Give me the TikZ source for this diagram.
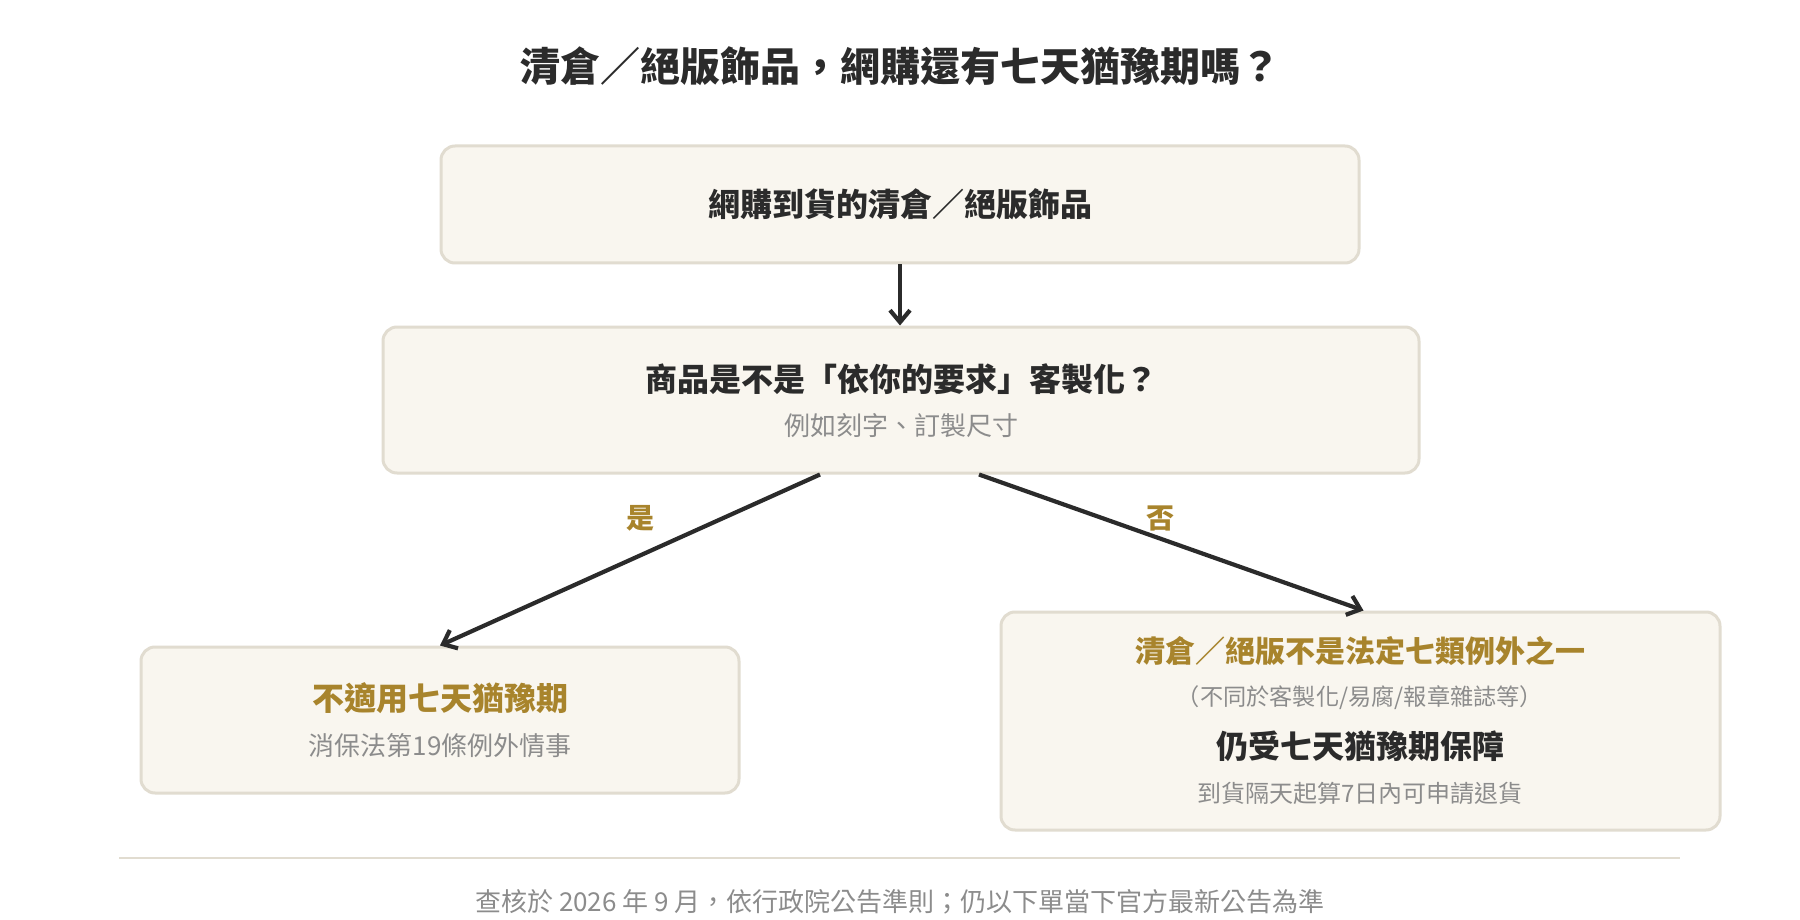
\documentclass[tikz,border=0pt]{standalone}
\usepackage{fontspec}
\setmainfont{Noto Sans CJK TC}
\usetikzlibrary{arrows.meta}
\definecolor{ink}{HTML}{2B2B2B}
\definecolor{graytxt}{HTML}{8C8C8C}
\definecolor{gold}{HTML}{A8842C}
\definecolor{boxfill}{HTML}{F9F6EF}
\definecolor{boxline}{HTML}{E1DCD0}
\tikzset{
  card/.style={draw=boxline, fill=boxfill, line width=3pt, rounded corners=14pt, inner sep=0pt},
  arr/.style={draw=ink, line width=4.2pt, -{Straight Barb[length=12pt,width=20pt]}},
  ttl/.style={font=\fontsize{40}{46}\selectfont\bfseries, text=ink},
  head/.style={font=\fontsize{32}{38}\selectfont\bfseries, text=ink},
  goldhead/.style={font=\fontsize{32}{38}\selectfont\bfseries, text=gold},
  sub/.style={font=\fontsize{26}{31}\selectfont, text=graytxt},
  small/.style={font=\fontsize{23.2}{28}\selectfont, text=graytxt},
  lbl/.style={font=\fontsize{28}{34}\selectfont\bfseries, text=gold},
}
\begin{document}
\begin{tikzpicture}[x=1pt,y=-1pt]
\useasboundingbox[fill=white] (0,0) rectangle (1800,920);
% title
\node[ttl] (title) at (900,66.5) {清倉／絕版飾品，網購還有七天猶豫期嗎？};
% boxes
\node[card, minimum width=918pt, minimum height=117pt] (b1) at (900,204.5) {};
\node[card, minimum width=1036pt, minimum height=146pt] (b2) at (901,400) {};
\node[card, minimum width=598pt, minimum height=146pt] (lb) at (440,720) {};
\node[card, minimum width=719pt, minimum height=218pt] (rb) at (1360.5,721) {};
% texts
\node[head] (t1) at (900,204) {網購到貨的清倉／絕版飾品};
\node[head] (t2) at (901,379.5) {商品是不是「依你的要求」客製化？};
\node[sub] (t2s) at (901,426) {例如刻字、訂製尺寸};
\node[goldhead] (t3) at (440,698.5) {不適用七天猶豫期};
\node[sub] (t3s) at (440,746) {消保法第19條例外情事};
\node[goldhead, font=\fontsize{30}{36}\selectfont\bfseries] (t4) at (1360,651) {清倉／絕版不是法定七類例外之一};
\node[small] (t4a) at (1360,698) {（不同於客製化/易腐/報章雜誌等）};
\node[head] (t4b) at (1360,746) {仍受七天猶豫期保障};
\node[sub, font=\fontsize{24}{29}\selectfont] (t4c) at (1360,793) {到貨隔天起算7日內可申請退貨};
% connectors
\draw[arr] (b1.south) -- (b1.south |- b2.north);
\draw[arr] ([xshift=-81pt]b2.south) -- (lb.north);
\draw[arr] ([xshift=78pt]b2.south) -- ([xshift=3pt]rb.north);
\node[lbl] (yes) at (640,518) {是};
\node[lbl] (no) at (1160,518) {否};
% separator and footer
\coordinate (sepL) at (119,858);
\coordinate (sepR) at (1680,858);
\draw[boxline, line width=2pt] (sepL) -- (sepR);
\node[sub, font=\fontsize{26}{31}\selectfont] (foot) at (900,902) {查核於 2026 年 9 月，依行政院公告準則；仍以下單當下官方最新公告為準};
\end{tikzpicture}
\end{document}
